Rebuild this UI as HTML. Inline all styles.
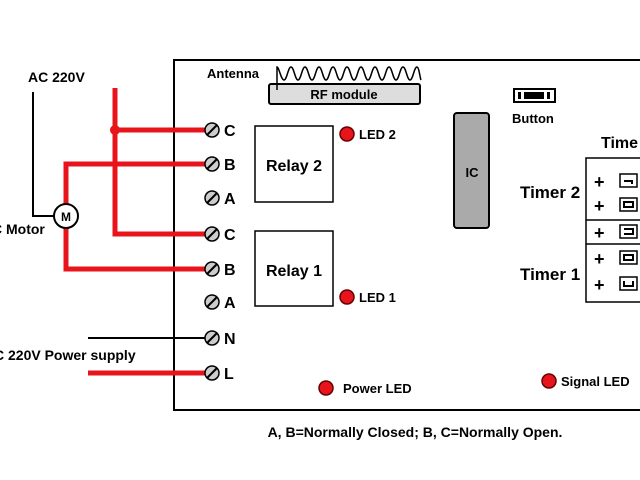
<!DOCTYPE html>
<html><head><style>body{margin:0;background:#fff}svg{display:block}text{font-family:"Liberation Sans",sans-serif;font-weight:bold;fill:#000}</style></head><body>
<svg width="640" height="480" viewBox="0 0 640 480">
<rect x="174" y="60" width="480" height="350" fill="none" stroke="#000" stroke-width="2"/>
<g stroke="#e8141c" stroke-width="5" fill="none">
<polyline points="115,88 115,234 205,234"/>
<line x1="115" y1="130" x2="205" y2="130"/>
<polyline points="205,164 66,164 66,269 205,269"/>
<line x1="88" y1="373" x2="205" y2="373"/>
</g>
<circle cx="115" cy="130" r="5" fill="#e8141c"/>
<g stroke="#000" stroke-width="2" fill="none">
<polyline points="33,92 33,216 54,216"/>
<line x1="88" y1="338" x2="205" y2="338"/>
</g>
<circle cx="66" cy="216" r="12" fill="#fff" stroke="#000" stroke-width="2"/>
<text x="66" y="221" font-size="12" text-anchor="middle">M</text>
<text x="28" y="82" font-size="14">AC 220V</text>
<text x="-8" y="234" font-size="14">C Motor</text>
<text x="-6" y="360" font-size="14">C 220V Power supply</text>
<g stroke="#000" stroke-width="1.5" fill="#ccc">
<circle cx="212" cy="130" r="7"/><circle cx="212" cy="164" r="7"/><circle cx="212" cy="198" r="7"/><circle cx="212" cy="234" r="7"/><circle cx="212" cy="269" r="7"/><circle cx="212" cy="302" r="7"/><circle cx="212" cy="338" r="7"/><circle cx="212" cy="373" r="7"/>
</g>
<g stroke="#000" stroke-width="2">
<line x1="207" y1="135" x2="217" y2="125"/><line x1="207" y1="169" x2="217" y2="159"/><line x1="207" y1="203" x2="217" y2="193"/><line x1="207" y1="239" x2="217" y2="229"/><line x1="207" y1="274" x2="217" y2="264"/><line x1="207" y1="307" x2="217" y2="297"/><line x1="207" y1="343" x2="217" y2="333"/><line x1="207" y1="378" x2="217" y2="368"/>
</g>
<g font-size="16">
<text x="224" y="136">C</text><text x="224" y="170">B</text><text x="224" y="204">A</text><text x="224" y="240">C</text><text x="224" y="275">B</text><text x="224" y="308">A</text><text x="224" y="344">N</text><text x="224" y="379">L</text>
</g>
<rect x="255" y="126" width="78" height="76" fill="none" stroke="#000" stroke-width="1.5"/>
<rect x="255" y="231" width="78" height="75" fill="none" stroke="#000" stroke-width="1.5"/>
<text x="294" y="171" font-size="16" text-anchor="middle">Relay 2</text>
<text x="294" y="276" font-size="16" text-anchor="middle">Relay 1</text>
<g fill="#e8141c" stroke="#600" stroke-width="1.5">
<circle cx="347" cy="134" r="7"/><circle cx="347" cy="297" r="7"/><circle cx="326" cy="388" r="7"/><circle cx="549" cy="381" r="7"/>
</g>
<g font-size="13">
<text x="359" y="139">LED 2</text><text x="359" y="302">LED 1</text><text x="343" y="393">Power LED</text><text x="561" y="386">Signal LED</text>
</g>
<rect x="269" y="84" width="151" height="20" rx="2" fill="#ddd" stroke="#000" stroke-width="2"/>
<text x="344" y="99" font-size="13" text-anchor="middle">RF module</text>
<path d="M277,90 L277,67 C279,67 281,80 284,80 C287,80 288,67 291,67 C294,67 295,80 298,80 C301,80 302,67 305,67 C308,67 309,80 312,80 C315,80 316,67 319,67 C322,67 323,80 326,80 C329,80 330,67 333,67 C336,67 337,80 340,80 C343,80 344,67 347,67 C350,67 351,80 354,80 C357,80 358,67 361,67 C364,67 365,80 368,80 C371,80 372,67 375,67 C378,67 379,80 382,80 C385,80 386,67 389,67 C392,67 393,80 396,80 C399,80 400,67 403,67 C406,67 407,80 410,80 C413,80 414,67 417,67 C419,67 420,78 421,80" fill="none" stroke="#000" stroke-width="1.5"/>
<text x="207" y="78" font-size="13">Antenna</text>
<rect x="454" y="113" width="35" height="115" rx="3" fill="#aaa" stroke="#000" stroke-width="2"/>
<text x="472" y="177" font-size="13" text-anchor="middle">IC</text>
<rect x="514" y="89" width="41" height="13" fill="#fff" stroke="#000" stroke-width="2"/>
<rect x="518" y="92" width="3" height="7" fill="#000"/><rect x="524" y="92" width="20" height="7" fill="#000"/><rect x="547" y="92" width="3" height="7" fill="#000"/>
<text x="512" y="123" font-size="13">Button</text>
<text x="601" y="148" font-size="16">Time</text>
<rect x="586" y="158" width="60" height="144" fill="none" stroke="#000" stroke-width="1.5"/>
<line x1="586" y1="220" x2="640" y2="220" stroke="#000" stroke-width="1.5"/>
<line x1="586" y1="244" x2="640" y2="244" stroke="#000" stroke-width="1.5"/>
<text x="520" y="198" font-size="17">Timer 2</text>
<text x="520" y="280" font-size="17">Timer 1</text>
<g font-size="18"><text x="594" y="188">+</text><text x="594" y="212">+</text><text x="594" y="239">+</text><text x="594" y="265">+</text><text x="594" y="291">+</text></g>
<g fill="#fff" stroke="#000" stroke-width="1.5">
<rect x="620" y="174" width="17" height="13"/><rect x="620" y="198" width="17" height="13"/><rect x="620" y="225" width="17" height="13"/><rect x="620" y="251" width="17" height="13"/><rect x="620" y="277" width="17" height="13"/>
</g>
<g stroke="#000" stroke-width="2" fill="none">
<polyline points="624,181 632,181 632,184"/>
<rect x="624" y="202" width="9" height="5"/>
<polyline points="624,229 633,229 633,234 624,234 M628,229 628,234"/>
<rect x="624" y="255" width="9" height="5"/>
<polyline points="624,281 624,286 633,286 633,281 M628,281 628,286"/>
</g>
<text x="415" y="437" font-size="14" text-anchor="middle">A, B=Normally Closed; B, C=Normally Open.</text>
</svg>
</body></html>
